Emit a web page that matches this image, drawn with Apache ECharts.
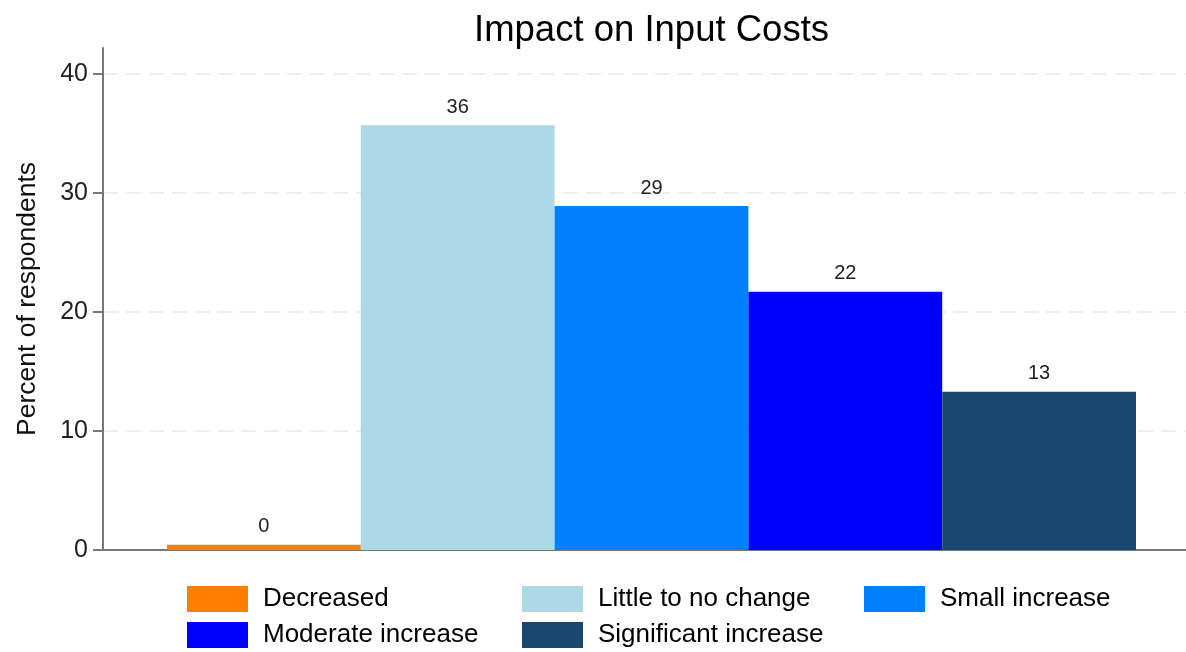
<!DOCTYPE html>
<html>
<head>
<meta charset="utf-8">
<script src="https://cdn.jsdelivr.net/npm/echarts@6/dist/echarts.min.js"></script>
<style>
html,body{margin:0;padding:0;background:#fff;}
#chart{width:1186px;height:652px;}
</style>
</head>
<body>
<div id="chart"></div>
<script>
const categories = ['Decreased', 'Little to no change', 'Small increase', 'Moderate increase', 'Significant increase'];
const values = [0.45, 35.7, 28.9, 21.7, 13.3];
const colors = ['#FF7F00', '#ADD8E6', '#0080FF', '#0000FF', '#1A476F'];
const yTicks = [0, 10, 20, 30, 40];
const titleText = 'Impact on Input Costs';
const yName = 'Percent of respondents';

const FONT = 'Liberation Sans, Arial, sans-serif';
const TOP40 = 74;
const BOTTOM = 102;

const series = categories.map((name, i) => ({
  name: name,
  type: 'bar',
  stack: 'all',
  xAxisIndex: 2,
  yAxisIndex: 2,
  barWidth: '100%',
  itemStyle: { color: colors[i] },
  label: {
    show: true,
    position: 'top',
    distance: 8,
    fontFamily: FONT,
    fontSize: 20,
    color: '#222',
    formatter: p => Math.round(p.value)
  },
  data: categories.map((c, j) => (j === i ? values[i] : '-'))
}));

function makeLegend(left, names) {
  return {
    orient: 'vertical',
    left: left,
    top: 584,
    height: 70,
    itemWidth: 61,
    itemHeight: 26,
    itemGap: 6,
    icon: 'rect',
    selectedMode: false,
    padding: 0,
    data: names,
    textStyle: { fontFamily: FONT, fontSize: 26, lineHeight: 26, color: '#000', padding: [4, 0, 0, 10] }
  };
}

const option = {
  animation: false,
  backgroundColor: '#fff',
  title: {
    text: titleText,
    left: 469,
    top: 7,
    textStyle: { fontFamily: FONT, fontSize: 36.5, fontWeight: 'normal', color: '#000' }
  },
  legend: [
    makeLegend(187, [categories[0], categories[3]]),
    makeLegend(522, [categories[1], categories[4]]),
    makeLegend(864, [categories[2]])
  ],
  grid: [
    { left: 103, right: 0, top: TOP40, bottom: BOTTOM },
    { left: 103, right: 0, top: 48, bottom: BOTTOM },
    { left: 167, right: 50, top: TOP40, bottom: BOTTOM }
  ],
  xAxis: [
    {
      gridIndex: 0, type: 'category', data: [''],
      axisLine: { show: true, lineStyle: { color: '#777', width: 2 } },
      axisTick: { show: false }, axisLabel: { show: false }, splitLine: { show: false }
    },
    { gridIndex: 1, type: 'category', data: [''], show: false },
    { gridIndex: 2, type: 'category', data: categories, show: false }
  ],
  yAxis: [
    {
      gridIndex: 0, type: 'value', min: yTicks[0], max: yTicks[yTicks.length - 1], interval: 10,
      axisLine: { show: false },
      axisTick: { show: true, length: 10, lineStyle: { color: '#777', width: 2 } },
      axisLabel: { fontFamily: FONT, fontSize: 25, color: '#222', margin: 15 },
      splitLine: { show: true, lineStyle: { color: '#EEEEEE', width: 2, type: [15, 8] } }
    },
    {
      gridIndex: 1, type: 'value', min: 0, max: 1,
      name: yName, nameLocation: 'middle', nameGap: 62,
      nameTextStyle: { fontFamily: FONT, fontSize: 26.5, color: '#111' },
      axisLine: { show: true, lineStyle: { color: '#777', width: 2 } },
      axisTick: { show: false }, axisLabel: { show: false }, splitLine: { show: false }
    },
    { gridIndex: 2, type: 'value', min: 0, max: 40, show: false, splitLine: { show: false } }
  ],
  series: series
};

const chart = echarts.init(document.getElementById('chart'), null, { renderer: 'canvas' });
chart.setOption(option);
</script>
</body>
</html>
